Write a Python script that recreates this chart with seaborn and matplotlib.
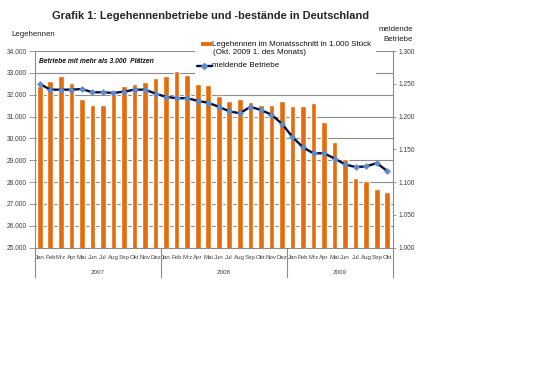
import numpy as np
import pandas as pd
import matplotlib
matplotlib.use("Agg")
import matplotlib.pyplot as plt
import matplotlib.transforms as mtransforms
import seaborn as sns
from matplotlib.ticker import FuncFormatter
from matplotlib.patches import Rectangle
from matplotlib.lines import Line2D

# ---------------- data ----------------
months = ["Jan", "Feb", "Mrz", "Apr", "Mai", "Jun", "Jul", "Aug", "Sep", "Okt", "Nov", "Dez"]
years = ["2007", "2008", "2009"]
month_labels = months * 2 + months[:10]
hennen = [32410, 32640, 32870, 32550, 31800, 31510, 31530, 32020, 32410, 32490, 32590, 32750,
          32850, 33080, 32890, 32480, 32430, 31950, 31710, 31790, 31650, 31540, 31550, 31710,
          31470, 31500, 31610, 30740, 29840, 29060, 28170, 28070, 27700, 27560]
betriebe = [1250, 1241, 1241, 1241, 1242, 1237, 1237, 1236, 1238, 1241, 1241, 1235,
            1230, 1228, 1228, 1224, 1221, 1215, 1208, 1205, 1215, 1210, 1203, 1189,
            1169, 1153, 1144, 1144, 1136, 1127, 1123, 1124, 1129, 1117]
left_ticks = list(range(25000, 34001, 1000))
right_ticks = list(range(1000, 1301, 50))

title = "Grafik 1: Legehennenbetriebe und -bestände in Deutschland"
bar_label = "Legehennen im Monatsschnitt in 1.000 Stück"
bar_label2 = "(Okt. 2009 1. des Monats)"
line_label = "meldende Betriebe"
note = "Betriebe mit mehr als 3.000  Plätzen"

ORANGE = "#E46C0A"
NAVY = "#06103F"
BLUE = "#5F8BC8"
GRAY = "#8C8C8C"
TXT = "#404040"

df = pd.DataFrame({"pos": np.arange(len(hennen)), "hennen": hennen, "betriebe": betriebe})

sns.set_style("white")
plt.rcParams["font.family"] = ["Liberation Sans", "DejaVu Sans"]

W, H = 540, 365
fig = plt.figure(figsize=(W / 100, H / 100), dpi=100)


def px(x, y):
    return x / W, 1 - y / H


L, R, T, B = 34.5, 392.5, 51.0, 247.7
ax = fig.add_axes([L / W, 1 - B / H, (R - L) / W, (B - T) / H])

sns.barplot(data=df, x="pos", y="hennen", color=ORANGE, saturation=1, width=0.54, ax=ax)
ax.set_ylim(25000, 34000)
ax.set_xlim(-0.5, len(hennen) - 0.5)
ax.set_yticks(left_ticks)
ax.yaxis.set_major_formatter(FuncFormatter(lambda v, p: f"{v:,.0f}".replace(",", ".")))
ax.set_axisbelow(True)
ax.yaxis.grid(True, color=GRAY, lw=0.8)
ax.xaxis.grid(False)
ax.set_xlabel("")
ax.set_ylabel("")
ax.set_xticks(np.arange(len(hennen)))
ax.set_xticklabels(month_labels)
ax.set_xticks(np.arange(-0.5, len(hennen), 1), minor=True)
ax.tick_params(axis="x", which="major", length=0, labelsize=4.4, labelcolor=TXT, pad=5)
ax.tick_params(axis="x", which="minor", length=10, width=0.5, color="#A0A0A0")
ax.tick_params(axis="y", length=4, width=0.6, color=GRAY, labelsize=4.8, labelcolor=TXT, pad=1.5, left=True)
for s in ["top", "right"]:
    ax.spines[s].set_visible(False)
for s in ["left", "bottom"]:
    ax.spines[s].set_color(GRAY)
    ax.spines[s].set_linewidth(0.8)

ax2 = ax.twinx()
sns.lineplot(data=df, x="pos", y="betriebe", ax=ax2, color=NAVY, lw=1.7, marker="D",
             markersize=3.0, markerfacecolor=BLUE, markeredgecolor=BLUE, markeredgewidth=0.5)
ax2.set_ylim(1000, 1300)
ax2.set_xlim(-0.5, len(hennen) - 0.5)
ax2.set_yticks(right_ticks)
ax2.yaxis.set_major_formatter(FuncFormatter(lambda v, p: f"{v:,.0f}".replace(",", ".")))
ax2.set_xlabel("")
ax2.set_ylabel("")
ax2.grid(False)
ax2.tick_params(axis="y", length=2.5, width=0.6, color=GRAY, labelsize=4.8, labelcolor=TXT, pad=1.5, right=True)
for s in ["top", "left", "bottom"]:
    ax2.spines[s].set_visible(False)
ax2.spines["right"].set_color(GRAY)
ax2.spines["right"].set_linewidth(0.8)

# year separators and labels
trans = mtransforms.blended_transform_factory(ax.transData, ax.transAxes)
n = len(hennen)
for b in [-0.5, 11.5, 23.5, n - 0.5]:
    ax.plot([b, b], [0, -0.148], transform=trans, color=GRAY, lw=0.8, clip_on=False)
starts = [0, 12, 24]
ends = [12, 24, n]
for yl, s0, s1 in zip(years, starts, ends):
    ax.text((s0 + s1 - 1) / 2, -0.125, yl, transform=trans, ha="center", va="center",
            fontsize=4.5, color=TXT)

# texts
fig.text(*px(211, 16), title, ha="center", va="center", fontsize=7.9, fontweight="bold")
fig.text(*px(11, 34.3), "Legehennen", ha="left", va="center", fontsize=5.7, color="#202020")
fig.text(*px(413, 29.3), "meldende", ha="right", va="center", fontsize=5.7, color="#202020")
fig.text(*px(413, 39.3), "Betriebe", ha="right", va="center", fontsize=5.7, color="#202020")
fig.text(*px(39, 61.7), note, ha="left", va="center", fontsize=4.9, fontweight="bold",
         fontstyle="italic", color="#101010")

# legend (manual, Excel-like)
x0, y0 = px(195, 78)
fig.add_artist(Rectangle((x0, y0), 181 / W, 39 / H, transform=fig.transFigure,
                         facecolor="white", edgecolor="none", zorder=5))
xa, ya = px(200.7, 44.3)
xb, _ = px(211.7, 44.3)
fig.add_artist(Line2D([xa, xb], [ya, ya], transform=fig.transFigure, color=ORANGE, lw=2.8,
                      solid_capstyle="butt", zorder=6))
xa, ya = px(197, 65.7)
fig.add_artist(Line2D([xa, xb], [ya, ya], transform=fig.transFigure, color=NAVY, lw=1.7, zorder=6))
xm, _ = px(204.3, 65.7)
fig.add_artist(Line2D([xm], [ya], transform=fig.transFigure, marker="D", markersize=3.0,
                      color=BLUE, zorder=7))
t = fig.text(*px(212, 44.3), bar_label, ha="left", va="center", fontsize=5.8, color="#101010")
t.set_zorder(6)
t = fig.text(*px(213, 52.5), bar_label2, ha="left", va="center", fontsize=5.8, color="#101010")
t.set_zorder(6)
t = fig.text(*px(212, 65.7), line_label, ha="left", va="center", fontsize=5.8, color="#101010")
t.set_zorder(6)

fig.savefig("out.png", dpi=100, facecolor="white")
